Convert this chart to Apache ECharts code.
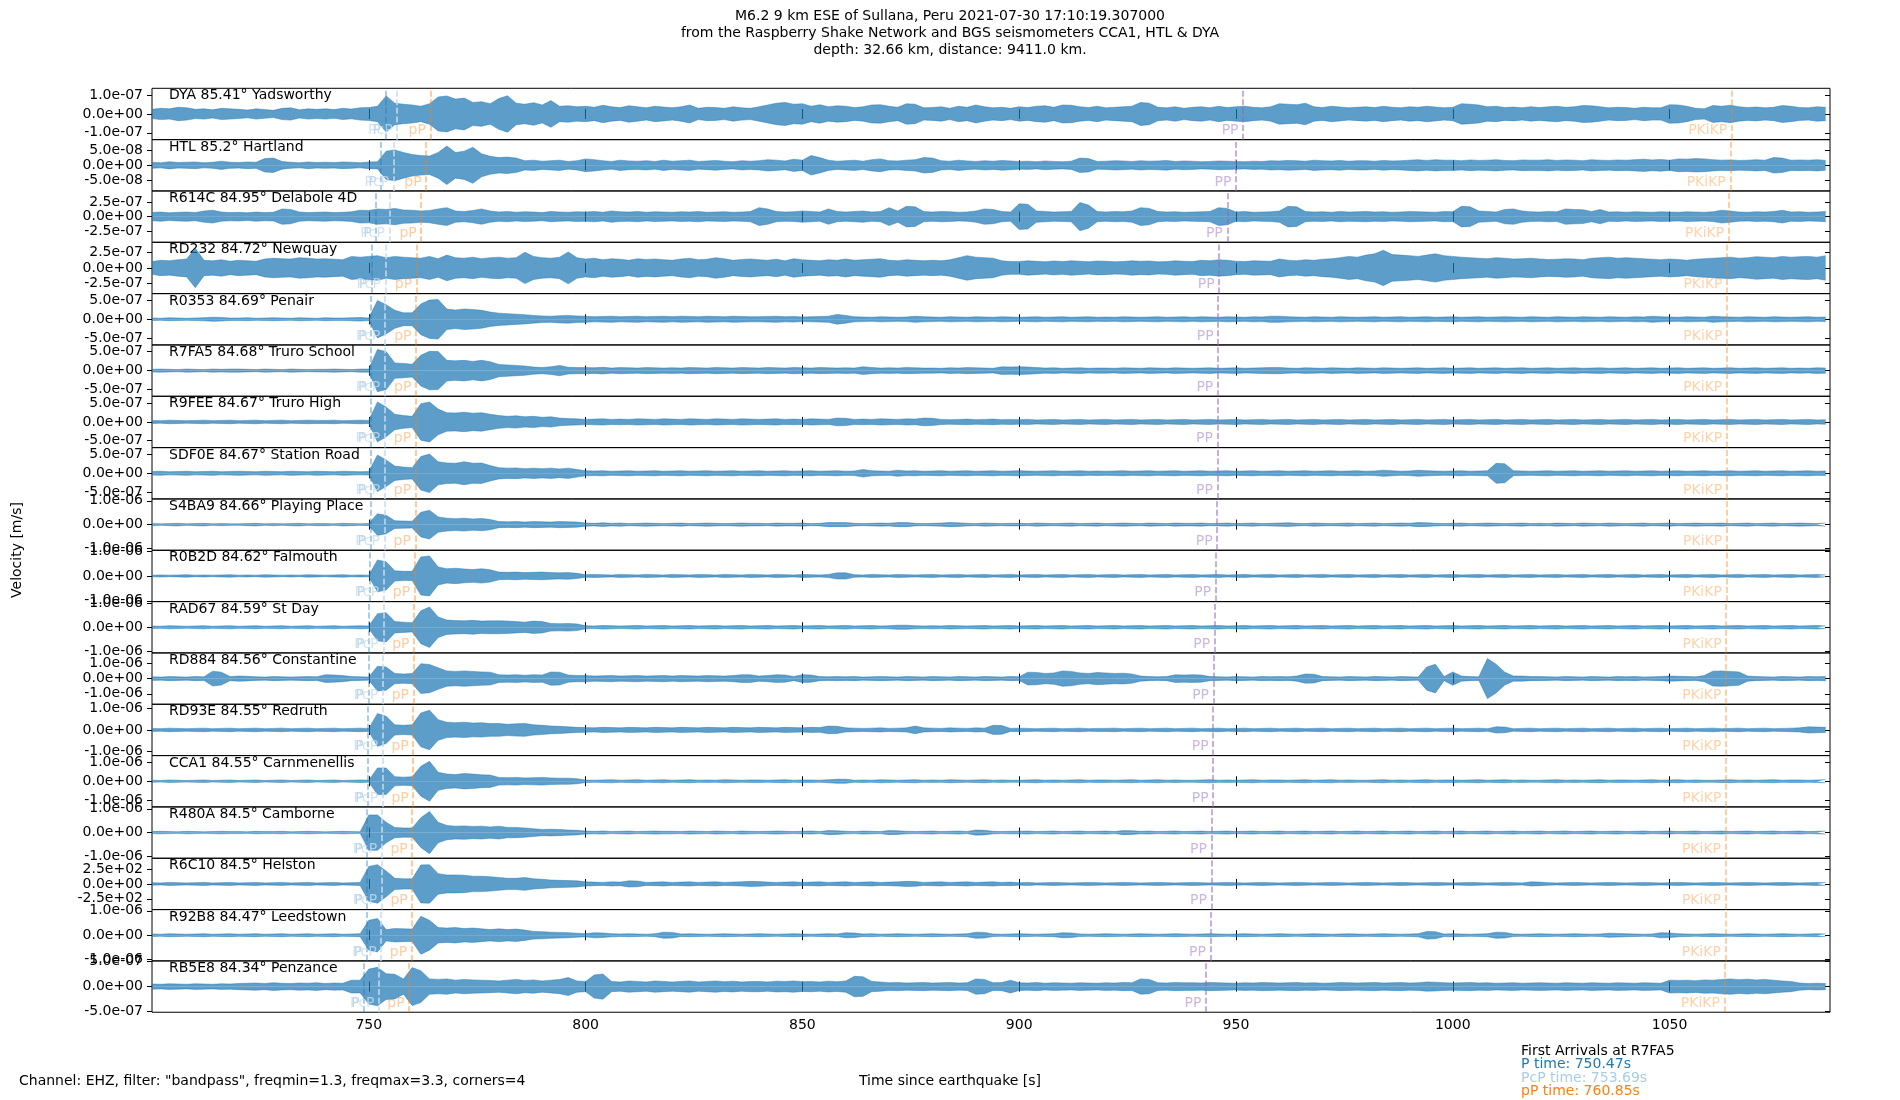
<!DOCTYPE html>
<html>
<head>
<meta charset="utf-8">
<title>M6.2 Sullana, Peru - Raspberry Shake / BGS seismograms</title>
<script src="https://cdn.jsdelivr.net/npm/echarts@6/dist/echarts.min.js"></script>
<style>
  html, body { margin: 0; padding: 0; background: #fff; }
  #chart { width: 1900px; height: 1100px; }
</style>
</head>
<body>
<div id="chart"></div>
<script>
// station labels, top panel first
var stations = [
  'DYA 85.41° Yadsworthy', 'HTL 85.2° Hartland', 'R614C 84.95° Delabole 4D', 'RD232 84.72° Newquay',
  'R0353 84.69° Penair', 'R7FA5 84.68° Truro School', 'R9FEE 84.67° Truro High', 'SDF0E 84.67° Station Road',
  'S4BA9 84.66° Playing Place', 'R0B2D 84.62° Falmouth', 'RAD67 84.59° St Day', 'RD884 84.56° Constantine',
  'RD93E 84.55° Redruth', 'CCA1 84.55° Carnmenellis', 'R480A 84.5° Camborne', 'R6C10 84.5° Helston',
  'R92B8 84.47° Leedstown', 'RB5E8 84.34° Penzance'
];
// y tick step of each panel (ticks at -step, 0, +step)
var tickStep = [1e-7, 5e-8, 2.5e-7, 2.5e-7, 5e-7, 5e-7, 5e-7, 5e-7, 1e-6, 1e-6, 1e-6, 1e-6, 1e-6, 1e-6, 1e-6, 250, 1e-6, 5e-7];
// half range of each panel's y axis
var yHalf = [1.36e-7, 8.75e-8, 4.48e-7, 4.2e-7, 6.65e-7, 6.75e-7, 7.0e-7, 6.75e-7, 1.08e-6, 1.03e-6, 1.08e-6, 1.69e-6, 1.18e-6, 1.36e-6, 1.08e-6, 432, 1.05e-6, 5.1e-7];

// predicted arrivals [s]
var pTime     = [753.83, 752.86, 751.71, 750.65, 750.52, 750.47, 750.42, 750.42, 750.38, 750.19, 750.06, 749.92, 749.87, 749.87, 749.64, 749.64, 749.5, 748.91];
var pcpTime   = [756.54, 755.72, 754.74, 753.85, 753.73, 753.69, 753.65, 753.65, 753.61, 753.45, 753.34, 753.22, 753.18, 753.18, 752.99, 752.99, 752.87, 752.36];
var pPTime    = [764.21, 763.24, 762.09, 761.03, 760.9, 760.85, 760.8, 760.8, 760.76, 760.57, 760.44, 760.3, 760.25, 760.25, 760.02, 760.02, 759.88, 759.29];
var PPTime    = [951.63, 950.0, 947.99, 946.12, 945.88, 945.8, 945.72, 945.72, 945.64, 945.31, 945.07, 944.83, 944.75, 944.75, 944.34, 944.34, 944.1, 943.05];
var pkikpTime = [1064.35, 1064.0, 1063.63, 1063.26, 1063.22, 1063.2, 1063.18, 1063.18, 1063.17, 1063.1, 1063.06, 1063.01, 1063.0, 1063.0, 1062.91, 1062.91, 1062.86, 1062.66];

var xTicks = [750, 800, 850, 900, 950, 1000, 1050];
var firstArrivals = ['First Arrivals at R7FA5', 'P time: 750.47s', 'PcP time: 753.69s', 'pP time: 760.85s'];

// peak/trough read every 2 s from 700 s, as % of the panel half range
var t0 = 700, dt = 2;
var amp_DYA = [
  18,-22,20,-26,24,-18,20,-16,22,-20,
  18,-15,20,-17,14,-22,24,-16,20,-18,
  20,-17,22,-19,24,-25,30,-70,42,-38,
  35,-30,40,-66,70,-58,62,-45,48,-40,
  60,-71,42,-38,44,-35,52,-30,32,-28,
  30,-26,34,-28,25,-32,28,-24,30,-27,
  24,-28,35,-22,26,-25,22,-28,24,-22,
  28,-35,42,-45,38,-40,30,-36,28,-32,
  30,-25,28,-35,36,-30,26,-40,38,-24,
  25,-28,22,-30,26,-35,28,-24,26,-22,
  28,-25,30,-32,26,-35,34,-28,25,-30,
  24,-26,28,-30,45,-42,26,-24,28,-22,
  26,-28,24,-30,25,-28,30,-26,24,-28,
  40,-38,36,-42,28,-25,30,-27,24,-26,
  28,-25,30,-26,24,-28,26,-30,27,-24,
  26,-40,38,-35,28,-30,25,-27,24,-28,
  25,-28,30,-26,28,-33,32,-28,24,-26,
  25,-22,26,-24,24,-36,35,-30,22,-20,
  33,-30,34,-28,25,-27,24,-26,33,-30,
  25,-24,28,-26];
var amp_HTL = [
  12,-10,14,-11,12,-13,10,-12,16,-12,
  11,-13,12,-26,28,-15,12,-10,13,-11,
  12,-11,13,-12,10,-13,14,-55,60,-50,
  42,-38,36,-50,75,-50,55,-70,45,-35,
  30,-32,28,-18,20,-16,18,-20,15,-18,
  25,-22,18,-15,20,-17,16,-18,15,-20,
  16,-18,20,-15,17,-19,16,-14,18,-16,
  18,-22,20,-17,24,-20,38,-30,20,-16,
  18,-20,16,-22,25,-18,17,-20,22,-30,
  28,-18,16,-20,17,-15,18,-16,19,-17,
  15,-16,14,-17,15,-14,16,-28,26,-15,
  16,-18,17,-15,18,-16,17,-19,15,-17,
  16,-14,15,-17,16,-15,14,-16,15,-18,
  17,-19,18,-16,20,-18,17,-19,16,-18,
  18,-16,19,-17,18,-20,22,-19,22,-20,
  20,-18,21,-19,20,-22,19,-18,21,-20,
  20,-22,19,-21,20,-18,22,-20,19,-21,
  20,-22,24,-21,23,-20,25,-24,26,-25,
  22,-20,21,-19,20,-22,20,-30,28,-20,
  21,-20,22,-19];
var amp_R614C = [
  16,-18,15,-17,18,-16,22,-25,18,-16,
  17,-15,18,-16,17,-30,28,-18,16,-17,
  18,-16,17,-19,25,-24,30,-28,32,-26,
  25,-22,24,-30,35,-22,20,-24,30,-22,
  18,-20,17,-19,18,-16,20,-18,17,-19,
  18,-20,17,-22,19,-18,20,-17,19,-18,
  17,-19,18,-20,17,-18,19,-17,18,-20,
  35,-30,20,-18,19,-22,20,-18,30,-20,
  18,-20,22,-18,20,-35,22,-40,38,-20,
  18,-20,19,-17,18,-22,30,-28,20,-18,
  50,-48,22,-20,18,-19,20,-55,45,-20,
  18,-20,19,-22,35,-32,20,-18,19,-17,
  18,-19,20,-35,32,-18,20,-17,18,-19,
  22,-40,38,-20,18,-19,17,-20,18,-19,
  20,-18,19,-17,18,-20,19,-18,17,-20,
  19,-40,38,-22,20,-18,28,-30,22,-19,
  18,-20,19,-30,28,-27,20,-28,18,-19,
  17,-19,18,-17,19,-18,17,-19,18,-17,
  19,-25,22,-18,17,-19,18,-20,25,-18,
  19,-17,18,-20];
var amp_RD232 = [
  25,-30,28,-32,35,-77,30,-28,32,-26,
  30,-28,26,-35,38,-36,35,-40,38,-35,
  36,-34,32,-45,42,-45,48,-40,45,-42,
  40,-38,45,-36,50,-40,38,-42,36,-40,
  42,-38,40,-61,45,-40,38,-42,62,-40,
  35,-38,32,-36,34,-30,36,-33,35,-32,
  30,-35,38,-32,34,-40,36,-30,33,-35,
  32,-30,34,-28,36,-32,30,-28,32,-30,
  35,-30,32,-34,36,-30,28,-32,30,-28,
  30,-28,32,-40,48,-42,40,-38,28,-25,
  25,-28,26,-24,27,-25,28,-26,24,-27,
  26,-24,25,-28,26,-27,24,-25,28,-26,
  25,-30,28,-32,30,-26,25,-28,27,-26,
  35,-30,28,-32,30,-34,36,-40,45,-42,
  50,-55,69,-52,50,-48,45,-50,55,-48,
  45,-42,40,-38,36,-40,38,-35,36,-38,
  35,-33,34,-36,35,-32,38,-40,42,-38,
  40,-38,36,-34,32,-35,33,-30,34,-36,
  38,-40,42,-38,40,-44,42,-40,45,-42,
  44,-45,42,-48];
var amp_R0353 = [
  5,-4,6,-5,4,-5,6,-8,7,-5,
  5,-6,4,-5,6,-5,4,-6,5,-4,
  6,-5,5,-6,7,-5,73,-57,35,-25,
  25,-60,75,-77,40,-36,40,-38,35,-28,
  24,-22,20,-18,15,-13,12,-14,15,-13,
  12,-10,11,-12,10,-11,12,-10,11,-12,
  10,-12,11,-10,12,-11,10,-12,11,-10,
  10,-11,12,-10,11,-9,10,-11,12,-19,
  15,-10,9,-8,10,-9,8,-9,12,-10,
  9,-8,10,-9,8,-10,9,-8,10,-9,
  8,-9,10,-8,9,-10,8,-9,10,-8,
  9,-8,10,-9,8,-9,10,-8,9,-10,
  8,-10,9,-8,10,-9,8,-10,9,-12,
  12,-10,9,-8,10,-9,8,-10,9,-8,
  9,-10,8,-9,10,-8,9,-10,8,-9,
  10,-8,9,-10,8,-9,10,-9,8,-10,
  9,-8,10,-9,8,-10,9,-8,10,-9,
  8,-10,9,-12,10,-9,8,-10,9,-8,
  12,-10,9,-8,10,-9,8,-10,9,-8,
  9,-10,8,-9];
var amp_R7FA5 = [
  5,-6,5,-4,6,-5,4,-6,5,-6,
  6,-5,4,-6,5,-4,6,-5,4,-5,
  5,-6,5,-4,6,-6,82,-74,30,-28,
  25,-60,75,-74,40,-38,40,-36,40,-35,
  24,-22,20,-18,14,-12,15,-20,13,-12,
  12,-11,13,-10,12,-11,10,-12,11,-10,
  11,-10,12,-11,10,-12,11,-10,12,-11,
  10,-12,11,-10,12,-11,10,-12,11,-10,
  11,-10,15,-12,10,-11,10,-12,11,-10,
  10,-9,11,-10,12,-11,10,-9,15,-14,
  15,-14,12,-10,11,-9,10,-11,9,-10,
  10,-9,11,-10,9,-11,10,-9,11,-10,
  9,-10,11,-9,10,-11,9,-10,11,-12,
  12,-10,9,-11,10,-9,11,-10,9,-11,
  10,-9,11,-10,9,-10,11,-9,10,-11,
  9,-10,11,-9,10,-11,9,-10,11,-9,
  10,-11,9,-10,11,-9,10,-11,9,-10,
  11,-9,10,-11,9,-10,11,-9,10,-11,
  9,-10,11,-9,10,-11,9,-10,11,-9,
  10,-9,11,-10];
var amp_R9FEE = [
  6,-5,7,-6,5,-6,7,-5,6,-7,
  5,-6,7,-5,6,-7,5,-6,7,-6,
  6,-7,5,-6,7,-6,78,-58,30,-25,
  22,-71,78,-50,36,-35,38,-34,36,-30,
  25,-22,24,-20,22,-18,20,-15,13,-12,
  10,-11,12,-10,11,-10,12,-11,10,-12,
  11,-10,12,-11,10,-12,11,-10,12,-11,
  10,-11,12,-10,11,-10,12,-11,10,-15,
  14,-10,11,-10,12,-11,10,-12,11,-15,
  14,-10,9,-10,11,-9,10,-11,9,-10,
  9,-10,8,-9,10,-8,9,-10,8,-9,
  10,-8,9,-10,8,-9,10,-8,9,-10,
  8,-9,10,-8,9,-10,8,-9,10,-8,
  9,-10,8,-9,10,-8,9,-10,8,-9,
  10,-8,9,-10,8,-9,10,-8,9,-10,
  8,-9,10,-8,9,-10,8,-9,10,-8,
  9,-10,8,-9,10,-8,9,-10,8,-9,
  10,-8,9,-10,8,-9,10,-8,9,-10,
  8,-9,10,-8,9,-10,8,-9,10,-8,
  9,-10,8,-9];
var amp_SDF0E = [
  7,-8,6,-7,8,-6,7,-8,6,-7,
  8,-7,6,-8,7,-6,8,-7,6,-8,
  7,-6,8,-7,6,-7,71,-52,28,-24,
  22,-65,75,-45,40,-39,45,-39,40,-30,
  22,-20,21,-18,20,-18,20,-17,20,-15,
  10,-9,10,-8,9,-10,8,-9,10,-8,
  9,-10,8,-9,10,-8,9,-10,8,-9,
  10,-8,9,-10,8,-9,10,-8,9,-10,
  8,-9,15,-10,9,-8,12,-9,10,-8,
  9,-10,8,-9,10,-8,9,-10,8,-9,
  10,-9,8,-9,10,-8,9,-10,8,-9,
  8,-9,10,-8,9,-10,8,-9,10,-8,
  9,-10,8,-9,10,-8,9,-10,8,-9,
  10,-8,9,-10,8,-9,10,-8,9,-10,
  8,-9,12,-10,8,-9,12,-10,9,-8,
  9,-10,8,-9,10,-39,37,-10,9,-8,
  9,-10,8,-9,10,-8,9,-10,8,-9,
  10,-8,9,-10,8,-9,10,-8,9,-10,
  8,-9,10,-8,9,-10,8,-9,10,-8,
  9,-10,8,-9];
var amp_S4BA9 = [
  4,-3,4,-5,3,-4,5,-3,4,-3,
  3,-4,5,-3,4,-3,4,-5,3,-4,
  4,-3,5,-4,3,-4,42,-36,15,-14,
  13,-48,56,-30,25,-23,25,-22,24,-20,
  12,-11,12,-10,12,-11,10,-12,11,-10,
  6,-5,7,-5,6,-4,5,-6,5,-4,
  5,-6,4,-5,6,-5,4,-5,6,-5,
  5,-4,6,-5,5,-6,4,-5,8,-8,
  8,-5,4,-5,6,-5,8,-8,5,-4,
  5,-6,8,-7,5,-4,6,-5,4,-5,
  5,-4,6,-5,4,-5,6,-4,5,-6,
  4,-5,6,-5,4,-6,5,-4,6,-5,
  5,-6,4,-5,6,-4,5,-6,4,-5,
  6,-7,5,-4,6,-5,4,-5,6,-4,
  5,-6,4,-5,6,-5,8,-7,5,-4,
  5,-6,4,-5,6,-5,4,-5,6,-4,
  5,-4,6,-5,4,-6,5,-4,6,-5,
  4,-5,6,-4,5,-6,4,-5,6,-5,
  5,-6,4,-5,6,-4,5,-6,4,-5,
  6,-5,4,-6];
var amp_R0B2D = [
  3,-4,3,-4,5,-3,4,-3,4,-5,
  3,-4,3,-5,4,-3,4,-3,5,-4,
  3,-4,5,-3,4,-3,62,-55,20,-18,
  18,-74,78,-35,28,-30,27,-25,28,-24,
  15,-14,15,-13,14,-15,13,-12,13,-10,
  5,-6,5,-4,6,-5,4,-6,5,-4,
  6,-5,4,-6,5,-4,6,-5,4,-6,
  5,-4,6,-5,4,-6,5,-4,6,-12,
  12,-5,4,-6,5,-4,6,-5,4,-5,
  6,-4,5,-6,4,-5,6,-4,5,-6,
  4,-5,6,-4,5,-6,4,-5,6,-4,
  5,-6,4,-5,6,-4,5,-6,4,-5,
  6,-4,5,-6,4,-5,6,-4,5,-6,
  4,-5,6,-4,5,-6,4,-5,6,-4,
  5,-6,4,-5,6,-4,5,-6,4,-5,
  6,-4,5,-6,4,-5,6,-4,5,-6,
  4,-5,6,-4,5,-6,4,-5,6,-4,
  5,-6,4,-5,6,-4,5,-6,4,-5,
  6,-4,5,-6,4,-5,6,-4,5,-6,
  4,-5,6,-4];
var amp_RAD67 = [
  5,-4,6,-5,4,-5,6,-4,5,-6,
  4,-5,6,-4,5,-6,4,-5,6,-4,
  5,-6,4,-5,6,-5,53,-57,22,-20,
  18,-64,79,-40,28,-26,25,-27,24,-25,
  25,-24,22,-20,24,-22,15,-14,15,-13,
  6,-5,7,-6,5,-6,7,-5,6,-7,
  5,-6,7,-5,6,-7,5,-6,7,-5,
  6,-7,5,-6,7,-5,6,-7,5,-6,
  7,-5,6,-7,5,-6,8,-8,6,-5,
  6,-5,7,-6,5,-6,7,-5,6,-7,
  5,-6,7,-5,6,-7,5,-6,7,-5,
  6,-7,5,-6,7,-5,6,-7,5,-6,
  7,-5,6,-7,5,-6,7,-5,6,-7,
  5,-6,7,-5,6,-7,5,-6,7,-5,
  6,-7,5,-6,7,-5,6,-7,5,-6,
  7,-5,6,-7,5,-6,7,-5,6,-7,
  5,-6,7,-5,6,-7,5,-6,7,-5,
  6,-7,5,-6,7,-5,6,-7,5,-6,
  7,-5,6,-7,5,-6,7,-5,6,-7,
  5,-6,7,-5];
var amp_RD884 = [
  7,-6,8,-7,6,-8,7,-29,25,-8,
  10,-9,7,-6,8,-7,6,-7,8,-7,
  15,-14,12,-8,7,-6,48,-45,20,-18,
  20,-58,55,-42,30,-28,30,-28,26,-25,
  15,-14,15,-13,15,-14,26,-25,14,-12,
  12,-10,11,-12,10,-11,12,-10,11,-12,
  10,-12,11,-10,12,-11,10,-12,15,-15,
  10,-12,15,-14,8,-15,14,-8,7,-8,
  7,-8,6,-7,8,-7,6,-8,7,-6,
  8,-7,6,-8,7,-6,8,-7,6,-8,
  7,-25,24,-20,22,-30,28,-22,20,-24,
  22,-20,21,-18,10,-8,7,-8,15,-14,
  15,-14,8,-7,6,-8,7,-6,8,-7,
  8,-7,10,-18,17,-8,7,-6,8,-7,
  6,-8,7,-6,8,-7,6,45,-56,8,
  -26,10,-8,7,78,-56,25,-10,10,-8,
  8,-7,6,-8,7,-6,8,-7,6,-8,
  7,-8,6,-7,8,-10,9,-8,7,-12,
  29,-30,28,-26,10,-8,7,-6,8,-7,
  6,-8,7,-8];
var amp_RD93E = [
  6,-5,7,-6,5,-6,7,-5,6,-7,
  5,-6,7,-5,6,-7,5,-6,7,-5,
  6,-7,5,-6,7,-6,64,-53,20,-18,
  20,-66,77,-40,30,-28,30,-27,28,-25,
  25,-22,24,-25,20,-18,15,-14,12,-10,
  9,-8,10,-9,8,-10,9,-8,10,-9,
  8,-10,9,-8,10,-9,8,-10,9,-8,
  10,-9,8,-10,9,-8,10,-9,15,-14,
  8,-7,6,-7,8,-6,7,-8,15,-8,
  7,-6,8,-7,6,-8,7,-18,17,-6,
  7,-6,5,-6,7,-5,6,-7,5,-6,
  6,-7,5,-6,7,-5,6,-7,5,-6,
  7,-5,6,-7,5,-6,7,-5,6,-7,
  5,-6,7,-5,6,-7,5,-6,7,-5,
  6,-7,5,-6,7,-5,6,-7,5,-6,
  7,-5,6,-7,5,-12,11,-5,6,-7,
  5,-6,7,-5,6,-7,5,-6,7,-5,
  6,-7,5,-6,7,-5,6,-7,5,-6,
  7,-5,6,-7,5,-6,7,-5,6,-7,
  8,-12,11,-10];
var amp_CCA1 = [
  4,-3,5,-4,3,-4,5,-3,4,-5,
  3,-4,5,-3,4,-5,3,-4,5,-3,
  4,-5,3,-4,5,-4,52,-52,18,-16,
  18,-58,78,-35,28,-26,30,-28,25,-24,
  15,-14,15,-13,14,-15,13,-12,12,-10,
  5,-4,5,-6,4,-5,6,-4,5,-6,
  4,-5,6,-4,5,-4,6,-5,4,-5,
  5,-4,5,-6,4,-5,5,-4,6,-8,
  8,-4,5,-4,6,-5,4,-5,6,-4,
  5,-4,6,-5,4,-5,6,-4,5,-4,
  4,-5,6,-4,5,-4,5,-6,4,-5,
  5,-4,5,-6,4,-5,6,-4,5,-4,
  4,-5,6,-4,5,-4,5,-6,4,-5,
  5,-4,5,-6,4,-5,6,-4,5,-4,
  4,-5,6,-4,5,-4,5,-6,4,-5,
  5,-4,5,-6,4,-5,6,-4,5,-4,
  4,-5,6,-4,5,-4,5,-6,4,-5,
  5,-4,5,-6,4,-5,6,-4,5,-4,
  4,-5,6,-4,5,-4,5,-6,4,-5,
  5,-4,5,-6];
var amp_R480A = [
  4,-5,4,-3,5,-4,3,-4,5,-4,
  4,-3,5,-4,4,-5,3,-4,5,-4,
  3,-4,5,-4,3,-69,69,-40,20,-18,
  18,-58,82,-40,28,-25,26,-24,25,-22,
  25,-20,20,-18,15,-12,13,-12,10,-9,
  6,-5,6,-4,5,-6,4,-5,6,-5,
  5,-4,6,-5,4,-6,5,-4,6,-5,
  4,-5,6,-5,4,-5,6,-4,8,-7,
  5,-4,6,-5,4,-8,7,-5,4,-5,
  6,-4,5,-6,4,-10,9,-5,4,-5,
  5,-6,4,-5,6,-4,5,-6,4,-5,
  6,-4,8,-7,5,-6,4,-5,6,-4,
  5,-6,4,-5,6,-4,5,-6,4,-5,
  6,-4,5,-6,4,-5,6,-4,5,-6,
  4,-5,6,-4,5,-6,4,-5,6,-4,
  5,-6,4,-5,6,-4,5,-6,4,-5,
  6,-4,5,-6,4,-5,6,-4,5,-6,
  4,-5,6,-4,5,-6,4,-5,6,-4,
  5,-6,4,-5,6,-4,5,-6,4,-5,
  6,-4,5,-6];
var amp_R6C10 = [
  5,-4,6,-5,4,-5,6,-4,5,-6,
  4,-5,6,-4,5,-6,4,-5,6,-4,
  5,-6,4,-5,6,-68,75,-50,22,-20,
  20,-74,75,-40,35,-35,34,-30,30,-28,
  25,-22,22,-25,20,-18,15,-14,13,-12,
  8,-7,6,-8,7,-12,11,-6,7,-8,
  6,-7,8,-6,7,-8,6,-7,8,-10,
  9,-7,6,-7,8,-6,7,-8,6,-7,
  8,-6,7,-8,6,-7,8,-10,9,-6,
  7,-8,6,-7,8,-6,7,-8,6,-7,
  5,-6,4,-5,6,-5,4,-5,6,-5,
  4,-5,6,-5,4,-5,6,-5,4,-5,
  6,-5,4,-5,6,-5,4,-5,6,-5,
  4,-5,6,-5,4,-5,6,-5,4,-5,
  6,-5,4,-5,6,-5,4,-5,6,-5,
  4,-5,6,-5,4,-5,6,-5,4,-8,
  7,-5,4,-5,6,-5,4,-5,6,-5,
  4,-5,6,-5,4,-5,6,-5,4,-5,
  6,-5,4,-5,6,-5,4,-5,6,-5,
  4,-5,6,-5];
var amp_R92B8 = [
  5,-4,6,-5,4,-5,6,-4,5,-6,
  4,-5,6,-4,5,-6,4,-5,6,-4,
  5,-6,4,-5,6,-58,65,-22,26,-25,
  24,-74,58,-30,28,-30,26,-28,25,-22,
  25,-22,24,-20,15,-14,12,-11,10,-8,
  6,-10,9,-6,5,-6,5,-4,6,-12,
  11,-5,6,-5,4,-5,6,-5,4,-5,
  6,-5,4,-5,6,-5,4,-5,6,-5,
  10,-9,5,-6,4,-5,6,-5,4,-5,
  6,-5,4,-5,6,-12,11,-5,4,-5,
  6,-5,4,-5,6,-10,9,-5,4,-5,
  6,-5,4,-5,6,-5,4,-5,6,-5,
  4,-5,6,-5,4,-5,6,-5,4,-5,
  6,-5,4,-5,6,-5,4,-5,6,-5,
  4,-5,6,-5,4,-5,6,-15,14,-5,
  6,-5,4,-5,6,-12,11,-5,4,-5,
  6,-5,4,-5,6,-5,4,-5,8,-7,
  6,-5,4,-5,10,-9,6,-5,4,-5,
  6,-5,4,-5,6,-5,4,-5,6,-5,
  4,-5,6,-5];
var amp_RB5E8 = [
  10,-9,11,-10,9,-11,10,-9,11,-10,
  12,-13,14,-12,15,-13,12,-14,13,-15,
  12,-14,13,-25,25,-68,75,-50,48,-30,
  74,-62,30,-28,30,-25,28,-26,25,-24,
  22,-25,28,-24,26,-22,25,-28,35,-22,
  20,-45,49,-20,18,-22,20,-18,22,-20,
  18,-20,22,-18,20,-22,19,-21,18,-20,
  20,-18,21,-20,22,-19,20,-18,21,-19,
  22,-40,38,-20,18,-15,16,-14,15,-16,
  14,-15,16,-14,15,-30,28,-15,16,-25,
  15,-14,16,-13,15,-14,13,-15,14,-13,
  15,-14,16,-15,30,-28,15,-14,16,-15,
  15,-14,16,-15,14,-13,15,-14,16,-15,
  14,-15,16,-14,15,-13,14,-16,15,-14,
  15,-16,14,-15,16,-14,15,-18,17,-15,
  14,-15,16,-14,15,-13,14,-15,13,-14,
  15,-14,13,-15,14,-13,15,-14,13,-15,
  14,-13,15,-14,13,-25,24,-25,23,-26,
  25,-28,30,-27,29,-26,28,-25,22,-20,
  14,-12,13,-12];

var traces = [amp_DYA, amp_HTL, amp_R614C, amp_RD232, amp_R0353, amp_R7FA5, amp_R9FEE, amp_SDF0E,
  amp_S4BA9, amp_R0B2D, amp_RAD67, amp_RD884, amp_RD93E, amp_CCA1, amp_R480A, amp_R6C10, amp_R92B8, amp_RB5E8];

var FONT = 'DejaVu Sans';
var TRACE = '#1f77b4';
var plotTop = 88.3, panelH = 51.33, plotLeft = 152, plotRight = 1830;

// phase name, line colour, label colour
var phases = [
  { name: 'P',     times: pTime,     line: 'rgba(31,119,180,0.5)',  text: 'rgba(31,119,180,0.38)' },
  { name: 'PcP',   times: pcpTime,   line: '#c6dbef',               text: '#c6dcee' },
  { name: 'pP',    times: pPTime,    line: 'rgba(255,127,14,0.55)', text: 'rgba(255,127,14,0.5)' },
  { name: 'PP',    times: PPTime,    line: 'rgba(148,103,189,0.7)', text: 'rgba(148,103,189,0.6)' },
  { name: 'PKiKP', times: pkikpTime, line: 'rgba(255,127,14,0.5)',  text: 'rgba(255,127,14,0.45)' }
];

function sci(v) {
  if (v === 0) return '0.0e+00';
  var parts = v.toExponential(1).split('e');
  var e = parseInt(parts[1], 10);
  var ae = Math.abs(e);
  return parts[0] + 'e' + (e < 0 ? '-' : '+') + (ae < 10 ? '0' : '') + ae;
}

function buildOption() {
  var grids = [], xAxes = [], yAxes = [], series = [], graphics = [];

  stations.forEach(function (label, i) {
    var panelTop = plotTop + i * panelH;
    var ticks = [-tickStep[i], 0, tickStep[i]];
    var half = yHalf[i];
    grids.push({
      left: plotLeft, top: panelTop, width: plotRight - plotLeft, height: panelH,
      show: true, borderColor: '#000', borderWidth: 1, backgroundColor: 'rgba(0,0,0,0)'
    });
    ['bottom', 'top'].forEach(function (pos) {
      xAxes.push({
        gridIndex: i, type: 'value', position: pos, min: 700, max: 1087,
        axisLine: { show: false }, splitLine: { show: false },
        axisTick: { show: true, inside: true, length: 5, customValues: xTicks, lineStyle: { color: '#000' } },
        axisLabel: {
          show: pos === 'bottom' && i === stations.length - 1, customValues: xTicks,
          formatter: function (v) { return String(v); },
          color: '#000', fontSize: 14, fontFamily: FONT, margin: 6
        }
      });
    });
    yAxes.push({
      gridIndex: i, type: 'value', position: 'left', min: -half, max: half,
      axisLine: { show: false }, splitLine: { show: false },
      axisTick: { show: true, inside: false, length: 5, customValues: ticks, lineStyle: { color: '#000' } },
      axisLabel: { show: true, customValues: ticks, formatter: sci, color: '#000', fontSize: 14, fontFamily: FONT, margin: 9 }
    });
    yAxes.push({
      gridIndex: i, type: 'value', position: 'right', min: -half, max: half,
      axisLine: { show: false }, splitLine: { show: false },
      axisTick: { show: true, inside: true, length: 5, customValues: ticks, lineStyle: { color: '#000' } },
      axisLabel: { show: false }
    });

    // the dense wiggles are drawn as the band they fill: upper half and lower half, each filled to 0
    var upper = traces[i].map(function (v, k) { return [t0 + k * dt, Math.abs(v) / 100 * half]; });
    var lower = traces[i].map(function (v, k) { return [t0 + k * dt, -Math.abs(v) / 100 * half]; });
    [upper, lower].forEach(function (d) {
      series.push({
        type: 'line', xAxisIndex: 2 * i, yAxisIndex: 2 * i, data: d,
        showSymbol: false, symbol: 'none', clip: true, silent: true,
        lineStyle: { color: TRACE, width: 0.6, opacity: 0.75 },
        areaStyle: { color: TRACE, opacity: 0.72, origin: 0 }
      });
    });

    var lines = phases.map(function (ph) {
      return { xAxis: ph.times[i], lineStyle: { color: ph.line, type: [6, 2.6], width: 1.5 } };
    });
    var labels = phases.map(function (ph) {
      return { name: ph.name, value: [ph.times[i], -0.65 * half], label: { color: ph.text } };
    });
    series.push({
      type: 'scatter', xAxisIndex: 2 * i, yAxisIndex: 2 * i, data: labels,
      symbolSize: 1, itemStyle: { color: 'rgba(0,0,0,0)' }, silent: true, z: 5,
      label: {
        show: true, position: 'left', distance: 4, fontSize: 14, fontFamily: FONT,
        formatter: function (p) { return p.name; }
      },
      markLine: { silent: true, symbol: ['none', 'none'], label: { show: false }, animation: false, data: lines }
    });

    graphics.push({
      type: 'text', x: 169, y: panelTop + 7.5, silent: true,
      style: { text: label, fill: '#000', fontSize: 14, fontFamily: FONT, textAlign: 'left', textVerticalAlign: 'middle' }
    });
  });

  var titleLines = [
    'M6.2 9 km ESE of Sullana, Peru 2021-07-30 17:10:19.307000',
    'from the Raspberry Shake Network and BGS seismometers CCA1, HTL & DYA',
    'depth: 32.66 km, distance: 9411.0 km.'
  ];
  titleLines.forEach(function (s, k) {
    graphics.push({
      type: 'text', x: 950, y: 16.7 + k * 16.7, silent: true,
      style: { text: s, fill: '#000', fontSize: 14, fontFamily: FONT, textAlign: 'center', textVerticalAlign: 'middle' }
    });
  });

  graphics.push({
    type: 'text', x: 17, y: 550, rotation: Math.PI / 2, silent: true,
    style: { text: 'Velocity [m/s]', fill: '#000', fontSize: 14, fontFamily: FONT, textAlign: 'center', textVerticalAlign: 'middle' }
  });
  graphics.push({
    type: 'text', x: 950, y: 1081, silent: true,
    style: { text: 'Time since earthquake [s]', fill: '#000', fontSize: 14, fontFamily: FONT, textAlign: 'center', textVerticalAlign: 'middle' }
  });
  graphics.push({
    type: 'text', x: 19, y: 1081, silent: true,
    style: { text: 'Channel: EHZ, filter: "bandpass", freqmin=1.3, freqmax=3.3, corners=4', fill: '#000', fontSize: 14, fontFamily: FONT, textAlign: 'left', textVerticalAlign: 'middle' }
  });

  var legendColors = ['#000', '#1f77b4', '#a9cde6', '#ff7f0e'];
  firstArrivals.forEach(function (s, k) {
    graphics.push({
      type: 'text', x: 1521, y: 1051 + k * 13.6, silent: true,
      style: { text: s, fill: legendColors[k], fontSize: 14, fontFamily: FONT, textAlign: 'left', textVerticalAlign: 'middle' }
    });
  });

  return {
    backgroundColor: '#fff',
    animation: false,
    textStyle: { fontFamily: FONT },
    grid: grids,
    xAxis: xAxes,
    yAxis: yAxes,
    series: series,
    graphic: graphics
  };
}

var myChart = echarts.init(document.getElementById('chart'), null, { renderer: 'canvas' });
myChart.setOption(buildOption());
</script>
</body>
</html>
